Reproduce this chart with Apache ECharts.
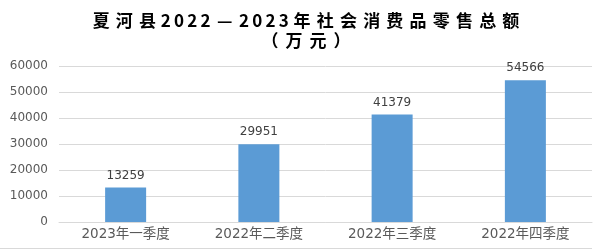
<!DOCTYPE html>
<html>
<head>
<meta charset="utf-8">
<script src="https://cdn.jsdelivr.net/npm/echarts@6/dist/echarts.min.js"></script>
<style>html,body{margin:0;padding:0;background:#fff;}#c{width:604px;height:250px;}</style>
</head>
<body>
<div id="c"></div>
<script>
var titleLine1 = '夏河县2022—2023年社会消费品零售总额';
var titleLine2 = '（万元）';
var categories = ['2023年一季度', '2022年二季度', '2022年三季度', '2022年四季度'];
var values = [13259, 29951, 41379, 54566];
var yTicks = [0, 10000, 20000, 30000, 40000, 50000, 60000];

function spaced(str) {
  var out = '';
  for (var i = 0; i < str.length; i++) {
    var ch = str[i];
    var key = /[0-9]/.test(ch) ? 'd' : (ch === '—' ? 'm' : 'c');
    out += '{' + key + '|' + ch + '}';
  }
  return out;
}
var titleFont = { fontFamily: 'Noto Sans CJK SC', fontWeight: 'bold', fontSize: 17, color: '#1a1a1a' };
var rich = {
  c: Object.assign({ padding: [0, 3.1] }, titleFont),
  d: Object.assign({ padding: [0, 1.6] }, titleFont),
  m: Object.assign({ padding: [0, 5] }, titleFont)
};
var rich2 = {
  c: Object.assign({ padding: [0, 3.5] }, titleFont),
  d: Object.assign({ padding: [0, 1.2] }, titleFont),
  m: Object.assign({ padding: [0, 5] }, titleFont)
};

var chart = echarts.init(document.getElementById('c'));
chart.setOption({
  animation: false,
  grid: { left: 59, right: 12, top: 66, bottom: 28 },
  graphic: [
    { type: 'text', x: 306, y: 21, style: { text: spaced(titleLine1), rich: rich, align: 'center', verticalAlign: 'middle' } },
    { type: 'text', x: 306, y: 41, style: { text: spaced(titleLine2), rich: rich2, align: 'center', verticalAlign: 'middle' } },
    { type: 'line', shape: { x1: 0, y1: 248.5, x2: 592, y2: 248.5 }, style: { stroke: '#d9d9d9', lineWidth: 1 } }
  ],
  xAxis: {
    type: 'category',
    data: categories,
    axisTick: { show: false },
    axisLine: { lineStyle: { color: '#d9d9d9', width: 1 } },
    axisLabel: { color: '#595959', fontSize: 13.5, fontFamily: 'DejaVu Sans, Noto Sans CJK SC', margin: 5, lineHeight: 14 }
  },
  yAxis: {
    type: 'value',
    min: yTicks[0],
    max: yTicks[yTicks.length - 1],
    interval: yTicks[1] - yTicks[0],
    axisLine: { show: false },
    axisTick: { show: false },
    splitLine: { lineStyle: { color: '#d9d9d9', width: 1 } },
    axisLabel: { color: '#595959', fontSize: 12, fontFamily: 'DejaVu Sans', margin: 11, formatter: function (v) { return String(v); } }
  },
  series: [{
    type: 'bar',
    data: values,
    barWidth: 41,
    itemStyle: { color: '#5b9bd5' },
    label: { show: true, position: 'top', distance: 5, color: '#404040', fontSize: 12, fontFamily: 'DejaVu Sans', lineHeight: 14 }
  }]
});
</script>
</body>
</html>
